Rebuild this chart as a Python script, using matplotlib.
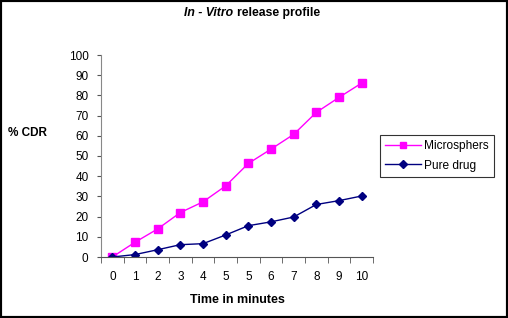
import matplotlib
matplotlib.use("Agg")
import matplotlib.pyplot as plt
from matplotlib.patches import Rectangle

plt.rcParams['font.family'] = ['Liberation Sans', 'DejaVu Sans']

categories = ['0', '1', '2', '3', '4', '5', '5', '6', '7', '8', '9', '10']
microspheres = [0, 7.3, 13.9, 22.0, 27.3, 35.2, 46.3, 53.4, 60.7, 71.6, 79.0, 86.1]
pure_drug = [0, 1.2, 3.6, 6.1, 6.6, 10.9, 15.5, 17.4, 19.8, 26.0, 27.9, 30.2]
y_ticks = list(range(0, 101, 10))

W, H = 508, 318
fig = plt.figure(figsize=(W / 100, H / 100), dpi=100)
ax = fig.add_axes([101 / W, 1 - 257 / H, 272 / W, (257 - 55) / H])

x = list(range(len(categories)))
l1, = ax.plot(x, microspheres, color='#ff00ff', lw=1.0, marker='s', ms=5.2,
              mfc='#ff00ff', mec='#ff00ff', label='Microsphers')
l2, = ax.plot(x, pure_drug, color='#000080', lw=1.0, marker='D', ms=4.2,
              mfc='#000080', mec='#000080', label='Pure drug')

ax.set_xlim(-0.5, len(categories) - 0.5)
ax.set_ylim(0, 100)
ax.set_yticks(y_ticks)
ax.set_yticklabels([str(v) for v in y_ticks], fontsize=8.5)
ax.set_xticks(x)
ax.set_xticklabels(categories, fontsize=8.5)
ax.set_xticks([i - 0.5 for i in range(len(categories) + 1)], minor=True)
ax.tick_params(axis='x', which='major', length=0, pad=10)
ax.tick_params(axis='x', which='minor', length=4, direction='out', color='#555555')
ax.tick_params(axis='y', length=3, direction='out', color='#555555', pad=6)

for s in ['top', 'right']:
    ax.spines[s].set_visible(False)
ax.spines['left'].set_color('#888888')
ax.spines['bottom'].set_color('#555555')

ax.set_xlabel('Time in minutes', fontsize=9, fontweight='bold', labelpad=8)
fig.text(8 / W, 1 - 133 / H, '% CDR', fontsize=8.5, fontweight='bold',
         ha='left', va='center')

fig.text(233 / W, 1 - 13 / H, 'In - Vitro', fontsize=8.8, fontweight='bold',
         fontstyle='italic', ha='right', va='center')
fig.text(237 / W, 1 - 13 / H, 'release profile', fontsize=8.8, fontweight='bold',
         ha='left', va='center')

leg = fig.legend(handles=[l1, l2], loc='upper left',
                 bbox_to_anchor=(380 / W, 1 - 135 / H), bbox_transform=fig.transFigure,
                 fontsize=8.6, frameon=True, fancybox=False, edgecolor='black',
                 borderpad=0.45, handlelength=3.0, labelspacing=0.6, borderaxespad=0,
                 handletextpad=0.2)
leg.get_frame().set_linewidth(0.8)
for h in leg.legend_handles:
    h.set_markersize(4.5)

fig.patches.append(Rectangle((0, 0), 1, 1, transform=fig.transFigure, fill=False,
                             edgecolor='black', lw=3, zorder=10))

fig.savefig('out.png', dpi=100)
